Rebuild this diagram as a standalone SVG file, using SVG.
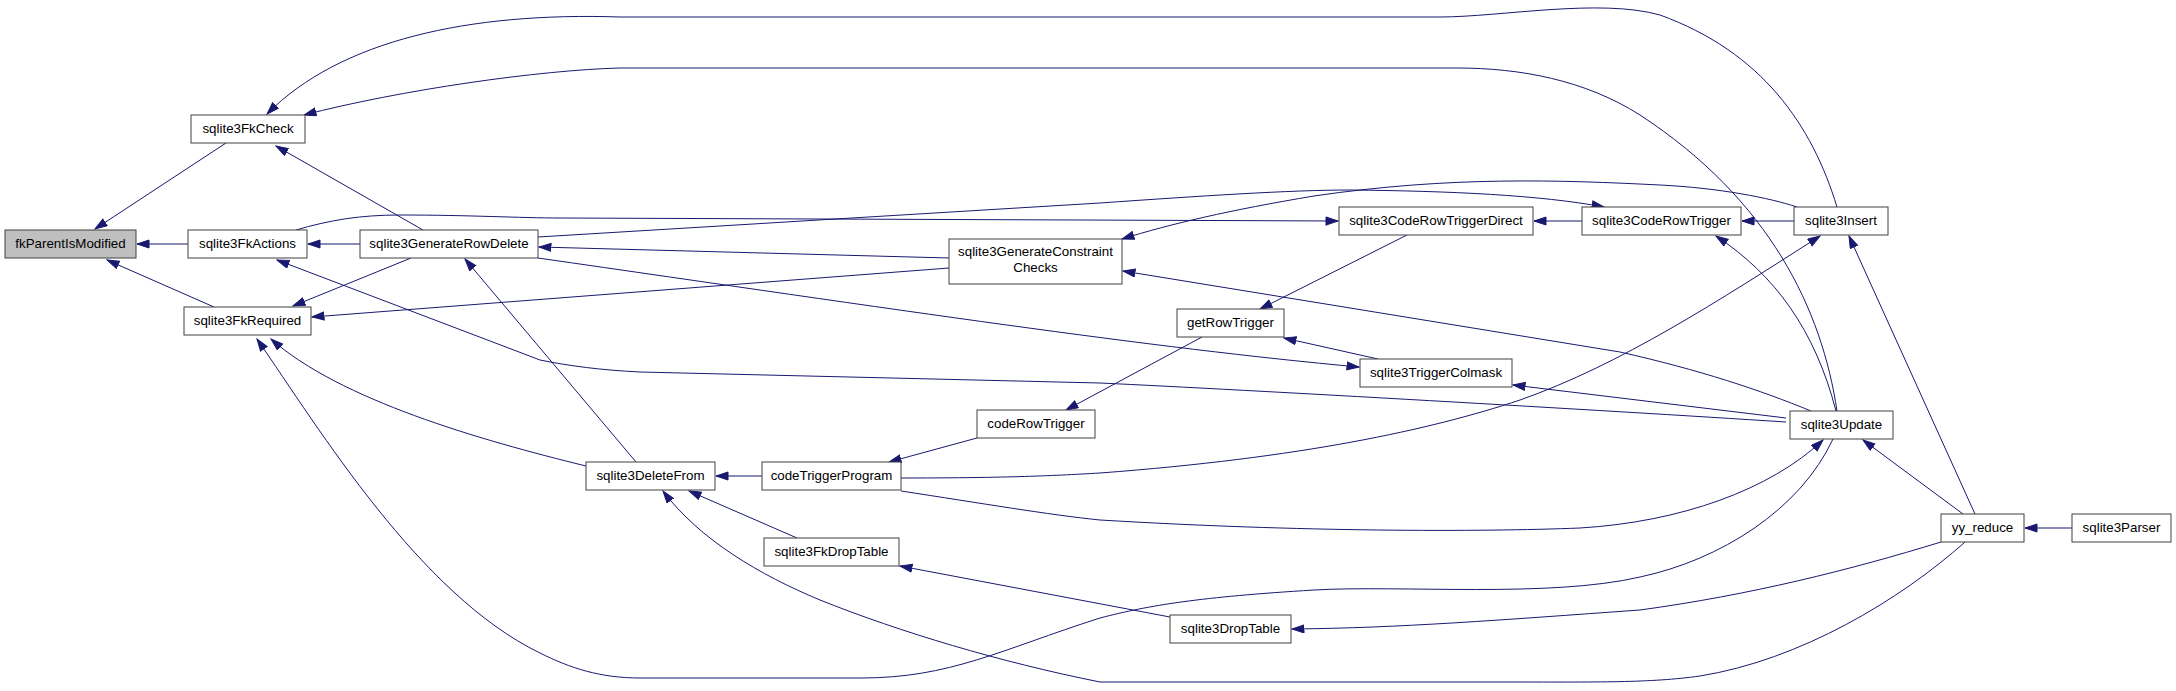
<svg xmlns="http://www.w3.org/2000/svg" width="2176" height="691" viewBox="0 0 2176 691">
<style>
.n rect{fill:#fff;stroke:#404040;stroke-width:1}
.n.root rect{fill:#bfbfbf}
.n text{font-family:"Liberation Sans",Arial,sans-serif;font-size:13.33px;fill:#000;text-anchor:middle}
.e path{fill:none;stroke:#191970;stroke-width:1;marker-end:url(#ah)}
</style>
<defs>
<marker id="ah" markerUnits="userSpaceOnUse" markerWidth="14" markerHeight="10" refX="12.5" refY="4.5" orient="auto">
<path d="M0.5,0.5 L12.5,4.5 L0.5,8.5 z" fill="#191970" stroke="#191970" stroke-width="1"/>
</marker>
</defs>
<rect width="2176" height="691" fill="#fff"/>
<g id="connectors" class="e">
<path d="M226,143 L95,229"/>
<path d="M188,244 L137,244"/>
<path d="M214,307 L107,260"/>
<path d="M423,230 L276,146"/>
<path d="M1837,207 C1812,125 1762,52 1660,15 C1600,-2 1500,17 1440,17 L620,17 C470,12 340,40 267,114"/>
<path d="M1837,411 C1822,310 1770,200 1640,115 C1585,80 1520,68 1457,68 L620,68 C540,70 400,90 304,115"/>
<path d="M360,244 L308,244"/>
<path d="M1786,422 C1600,410 1250,390 1100,383 L640,372 C600,370 570,366 540,360 L277,260"/>
<path d="M411,258 L293,306"/>
<path d="M949,268 L312,317"/>
<path d="M586,466 C480,440 340,400 271,339"/>
<path d="M1833,439 C1800,510 1720,560 1640,577 C1550,598 1400,585 1314,590 C1200,597 1150,605 1100,618 C1000,650 950,678 861,678 L640,678 C600,678 570,668 540,653 C420,595 320,430 257,339"/>
<path d="M636,462 L465,259"/>
<path d="M949,258 L539,247"/>
<path d="M296,230 C330,220 360,215 400,215 C470,215 520,218 560,218 L1338,221"/>
<path d="M538,237 L1100,203 C1200,196 1290,190 1350,190 C1450,191 1540,195 1604,207"/>
<path d="M1797,207 C1770,198 1720,188 1660,185 C1560,180 1450,176 1314,196 C1230,210 1170,224 1122,239"/>
<path d="M538,258 C900,310 1150,348 1359,367"/>
<path d="M1811,411 C1760,390 1700,370 1620,352 L1123,271"/>
<path d="M1786,418 L1513,385"/>
<path d="M1836,411 C1815,330 1775,275 1716,236"/>
<path d="M901,478 C1000,478 1050,476 1100,473 C1300,458 1430,430 1520,400 C1620,365 1720,300 1820,236"/>
<path d="M901,491 C980,503 1050,515 1100,520 C1300,532 1480,532 1580,528 C1680,522 1770,490 1823,440"/>
<path d="M1963,514 L1863,440"/>
<path d="M1975,514 L1849,236"/>
<path d="M2072,528 L2025,528"/>
<path d="M1941,542 C1850,570 1750,595 1640,610 C1500,620 1400,628 1292,629"/>
<path d="M1965,542 C1900,600 1800,660 1700,676 C1650,683 1600,682 1500,682 L1100,682 C1000,662 900,632 820,600 C760,575 700,540 663,491"/>
<path d="M762,476 L716,476"/>
<path d="M797,538 L689,491"/>
<path d="M1170,617 L900,566"/>
<path d="M977,438 L889,462"/>
<path d="M1202,337 L1066,410"/>
<path d="M1407,235 L1260,309"/>
<path d="M1378,359 L1284,338"/>
<path d="M1582,221 L1534,221"/>
<path d="M1794,221 L1742,221"/>
</g>
<g id="fkParentIsModified" class="n root"><rect x="5" y="230" width="131" height="28"/><text x="70.5" y="247.5">fkParentIsModified</text></g>
<g id="sqlite3FkCheck" class="n"><rect x="191" y="115" width="114" height="28"/><text x="248" y="132.5">sqlite3FkCheck</text></g>
<g id="sqlite3FkActions" class="n"><rect x="188" y="230" width="119" height="28"/><text x="247.5" y="247.5">sqlite3FkActions</text></g>
<g id="sqlite3FkRequired" class="n"><rect x="184" y="307" width="127" height="28"/><text x="247.5" y="324.5">sqlite3FkRequired</text></g>
<g id="sqlite3GenerateRowDelete" class="n"><rect x="360" y="230" width="178" height="28"/><text x="449" y="247.5">sqlite3GenerateRowDelete</text></g>
<g id="sqlite3DeleteFrom" class="n"><rect x="586" y="462" width="129" height="28"/><text x="650.5" y="479.5">sqlite3DeleteFrom</text></g>
<g id="codeTriggerProgram" class="n"><rect x="762" y="462" width="139" height="28"/><text x="831.5" y="479.5">codeTriggerProgram</text></g>
<g id="sqlite3FkDropTable" class="n"><rect x="764" y="538" width="135" height="28"/><text x="831.5" y="555.5">sqlite3FkDropTable</text></g>
<g id="codeRowTrigger" class="n"><rect x="977" y="410" width="118" height="28"/><text x="1036" y="427.5">codeRowTrigger</text></g>
<g id="sqlite3GenerateConstraintChecks" class="n"><rect x="949" y="239" width="173" height="45"/><text x="1035.5" y="256">sqlite3GenerateConstraint</text><text x="1035.5" y="271.5">Checks</text></g>
<g id="getRowTrigger" class="n"><rect x="1177" y="309" width="107" height="28"/><text x="1230.5" y="326.5">getRowTrigger</text></g>
<g id="sqlite3DropTable" class="n"><rect x="1170" y="615" width="121" height="28"/><text x="1230.5" y="632.5">sqlite3DropTable</text></g>
<g id="sqlite3CodeRowTriggerDirect" class="n"><rect x="1339" y="207" width="194" height="28"/><text x="1436" y="224.5">sqlite3CodeRowTriggerDirect</text></g>
<g id="sqlite3TriggerColmask" class="n"><rect x="1360" y="359" width="152" height="28"/><text x="1436" y="376.5">sqlite3TriggerColmask</text></g>
<g id="sqlite3CodeRowTrigger" class="n"><rect x="1582" y="207" width="159" height="28"/><text x="1661.5" y="224.5">sqlite3CodeRowTrigger</text></g>
<g id="sqlite3Insert" class="n"><rect x="1794" y="207" width="94" height="28"/><text x="1841" y="224.5">sqlite3Insert</text></g>
<g id="sqlite3Update" class="n"><rect x="1790" y="411" width="103" height="28"/><text x="1841.5" y="428.5">sqlite3Update</text></g>
<g id="yy_reduce" class="n"><rect x="1941" y="514" width="83" height="28"/><text x="1982.5" y="531.5">yy_reduce</text></g>
<g id="sqlite3Parser" class="n"><rect x="2072" y="514" width="99" height="28"/><text x="2121.5" y="531.5">sqlite3Parser</text></g>
</svg>
